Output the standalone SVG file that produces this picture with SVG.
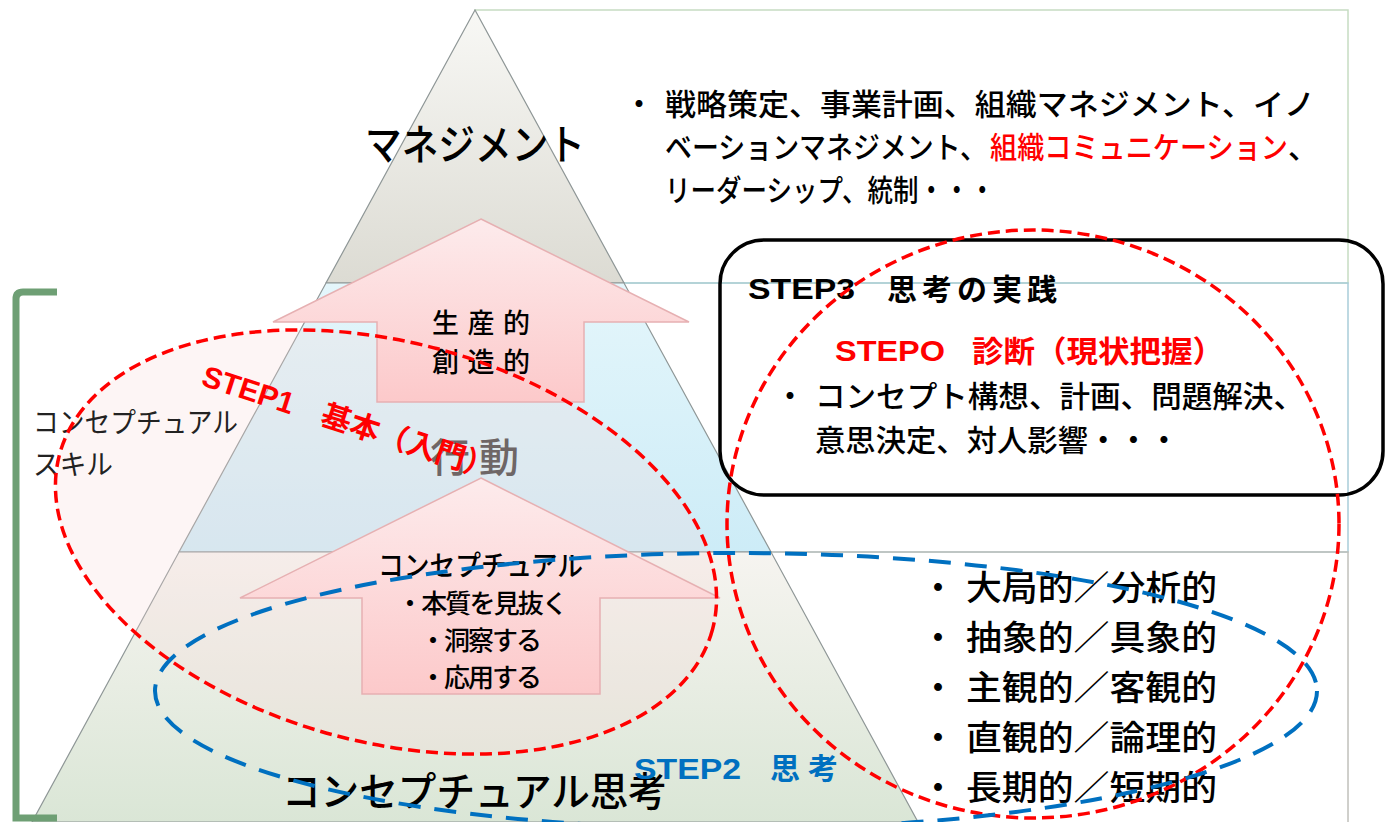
<svg xmlns="http://www.w3.org/2000/svg" width="1386" height="822" viewBox="0 0 1386 822">
<defs>
<linearGradient id="gTop" gradientUnits="userSpaceOnUse" x1="0" y1="10" x2="0" y2="283"><stop offset="0" stop-color="#f8f8f5"/><stop offset="1" stop-color="#dcdbd3"/></linearGradient>
<linearGradient id="gMid" gradientUnits="userSpaceOnUse" x1="0" y1="283" x2="0" y2="552"><stop offset="0" stop-color="#e4f6fb"/><stop offset="1" stop-color="#cdecf7"/></linearGradient>
<linearGradient id="gBot" gradientUnits="userSpaceOnUse" x1="0" y1="552" x2="0" y2="822"><stop offset="0" stop-color="#f6f4f0"/><stop offset="1" stop-color="#dae6d6"/></linearGradient>
<linearGradient id="gArrow" x1="0" y1="0" x2="0" y2="1"><stop offset="0" stop-color="#fdebec"/><stop offset="1" stop-color="#fcc9ca"/></linearGradient>
<style>
.band{stroke:#8e9696;stroke-width:1.2}
.arrow{fill:url(#gArrow);stroke:#e6b0b2;stroke-width:1.5}
.jp{font-family:"Noto Sans CJK JP","Noto Sans CJK SC",sans-serif;fill:#000;font-weight:500}
.mix{font-family:"Liberation Sans","Noto Sans CJK JP",sans-serif}
.red{fill:#ff0000}
.blue{fill:#0070c0}
.dashR{fill:none;stroke:#ff0000;stroke-width:3.5;stroke-dasharray:12 6}
.dashB{fill:none;stroke:#0070c0;stroke-width:4;stroke-dasharray:22 14}
</style>
</defs>
<rect width="1386" height="822" fill="#ffffff"/>

<g id="right-boxes">
<rect x="475" y="10" width="873" height="273" fill="none" stroke="#c6dcc2" stroke-width="1.5"/>
<rect x="475" y="283" width="873" height="269" fill="none" stroke="#a9cdd9" stroke-width="1.5"/>
<rect x="475" y="552" width="873" height="272" fill="none" stroke="#c0c0bb" stroke-width="1.5"/>
</g>

<g id="pyramid">
<polygon class="band" points="475,10 326,283 624,283" fill="url(#gTop)"/>
<polygon class="band" points="326,283 624,283 771,552 179,552" fill="url(#gMid)"/>
<polygon class="band" points="179,552 771,552 918,822 32,822" fill="url(#gBot)"/>
<text class="jp" x="365" y="160" font-size="42" textLength="220" lengthAdjust="spacingAndGlyphs">マネジメント</text>
<text class="jp" x="430" y="472" font-size="40" style="fill:#404040" textLength="89">行動</text>
<text class="jp" x="282" y="806" font-size="40" textLength="385" lengthAdjust="spacingAndGlyphs">コンセプチュアル思考</text>
</g>

<g id="step1-fill">
<ellipse cx="386" cy="542" rx="338" ry="200" transform="rotate(15 386 542)" fill="#f8d6d6" fill-opacity="0.25"/>
</g>

<g id="arrow-top">
<polygon class="arrow" points="481,219 689,322 584,322 584,402 377,402 377,322 273,322"/>
<text class="jp" x="432" y="333" font-size="27" textLength="98">生産的</text>
<text class="jp" x="432" y="372" font-size="27" textLength="98">創造的</text>
</g>

<g id="arrow-bottom">
<polygon class="arrow" points="481,478 720,598 600,598 600,694 362,694 362,598 240,598"/>
<text class="jp" x="378" y="576" font-size="28" textLength="205" lengthAdjust="spacingAndGlyphs">コンセプチュアル</text>
<text class="jp" x="397" y="613" font-size="26" textLength="171">・本質を見抜く</text>
<text class="jp" x="420" y="650" font-size="26" textLength="122">・洞察する</text>
<text class="jp" x="420" y="687" font-size="26" textLength="122">・応用する</text>
</g>

<g id="bracket">
<path d="M57,292 L23,292 Q16,292 16,299 L16,818 L57,818" fill="none" stroke="#6e9f74" stroke-width="7"/>
<text class="jp" x="33" y="433" font-size="28" style="fill:#222;font-weight:400" textLength="205" lengthAdjust="spacingAndGlyphs">コンセプチュアル</text>
<text class="jp" x="33" y="475" font-size="28" style="fill:#222;font-weight:400" textLength="80" lengthAdjust="spacingAndGlyphs">スキル</text>
</g>

<g id="management-text">
<text class="jp" font-size="30"><tspan x="624" y="115">・</tspan></text>
<text class="jp" x="665" y="115" font-size="30" textLength="650" lengthAdjust="spacingAndGlyphs">戦略策定、事業計画、組織マネジメント、イノ</text>
<text class="jp" font-size="30"><tspan x="665" y="158" textLength="322" lengthAdjust="spacingAndGlyphs">ベーションマネジメント、</tspan><tspan x="990" y="158" style="fill:#ff0000" textLength="298" lengthAdjust="spacingAndGlyphs">組織コミュニケーション</tspan><tspan x="1288" y="158">、</tspan></text>
<text class="jp" x="665" y="201" font-size="30" textLength="330" lengthAdjust="spacingAndGlyphs">リーダーシップ、統制・・・</text>
</g>

<g id="step3-box">
<rect x="720" y="240" width="663" height="255" rx="44" fill="none" stroke="#000" stroke-width="3.5"/>
<text class="mix" font-size="30" font-weight="700" fill="#000"><tspan x="748" y="299" textLength="107" lengthAdjust="spacingAndGlyphs">STEP3</tspan> <tspan x="887" y="300" font-family="Noto Sans CJK JP" textLength="170">思考の実践</tspan></text>
<text class="mix" font-size="30" font-weight="700" fill="#ff0000"><tspan x="835" y="361" textLength="110" lengthAdjust="spacingAndGlyphs">STEPO</tspan> <tspan x="972" y="362" font-family="Noto Sans CJK JP" textLength="252" lengthAdjust="spacingAndGlyphs">診断（現状把握）</tspan></text>
<text class="jp" font-size="30"><tspan x="775" y="407">・</tspan></text>
<text class="jp" x="815" y="407" font-size="30" textLength="489" lengthAdjust="spacingAndGlyphs">コンセプト構想、計画、問題解決、</text>
<text class="jp" x="815" y="451" font-size="30" textLength="364" lengthAdjust="spacingAndGlyphs">意思決定、対人影響・・・</text>
</g>

<g id="thinking-list">
<text class="jp" font-size="34"><tspan x="921" y="600">・</tspan><tspan x="921" y="650">・</tspan><tspan x="921" y="700">・</tspan><tspan x="921" y="750">・</tspan><tspan x="921" y="800">・</tspan></text>
<text class="jp" x="966" y="600" font-size="34" textLength="251" lengthAdjust="spacingAndGlyphs">大局的／分析的</text>
<text class="jp" x="966" y="650" font-size="34" textLength="251" lengthAdjust="spacingAndGlyphs">抽象的／具象的</text>
<text class="jp" x="966" y="700" font-size="34" textLength="251" lengthAdjust="spacingAndGlyphs">主観的／客観的</text>
<text class="jp" x="966" y="750" font-size="34" textLength="251" lengthAdjust="spacingAndGlyphs">直観的／論理的</text>
<text class="jp" x="966" y="800" font-size="34" textLength="251" lengthAdjust="spacingAndGlyphs">長期的／短期的</text>
</g>

<g id="step1">
<ellipse class="dashR" cx="386" cy="542" rx="338" ry="200" transform="rotate(15 386 542)"/>
<text class="mix red" font-size="30" font-weight="700" transform="translate(200,385) rotate(18)">STEP1　基本（入門）</text>
</g>

<g id="step0">
<ellipse class="dashR" cx="1033" cy="524" rx="306" ry="294"/>
</g>

<g id="step2">
<ellipse class="dashB" cx="736" cy="691" rx="581" ry="138"/>
<text class="mix blue" font-size="30" font-weight="700"><tspan x="634" y="779" textLength="107" lengthAdjust="spacingAndGlyphs">STEP2</tspan> <tspan x="770" y="779" font-family="Noto Sans CJK JP" textLength="68">思考</tspan></text>
</g>

<g id="connectors"/>
</svg>
